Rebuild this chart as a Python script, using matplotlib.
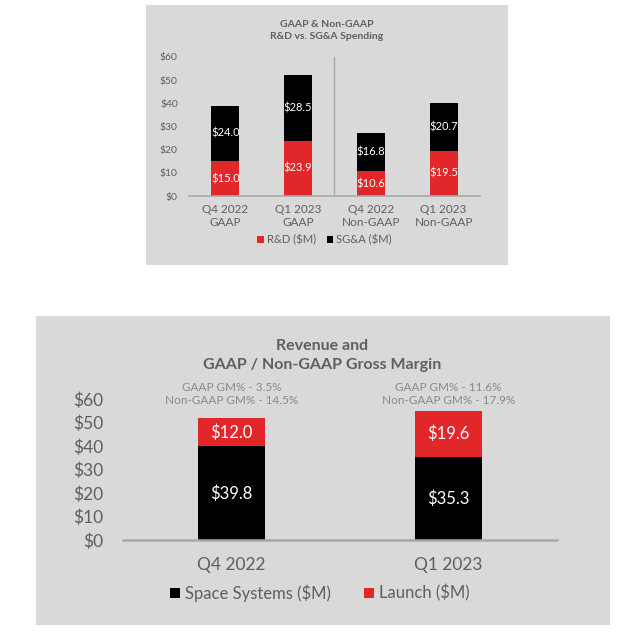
import matplotlib.pyplot as plt
from matplotlib.patches import Rectangle

# Top panel: spending
spend_labels = ["Q4 2022\nGAAP", "Q1 2023\nGAAP", "Q4 2022\nNon-GAAP", "Q1 2023\nNon-GAAP"]
rd_spend = [15.0, 23.9, 10.6, 19.5]
sga_spend = [24.0, 28.5, 16.8, 20.7]

# Bottom panel: revenue
rev_labels = ["Q4 2022", "Q1 2023"]
space_systems = [39.8, 35.3]
launch = [12.0, 19.6]
gaap_gm = [3.5, 11.6]
nongaap_gm = [14.5, 17.9]

y_ticks = [0, 10, 20, 30, 40, 50, 60]

RED = "#e1272a"
BLACK = "#000000"
PANEL = "#d9d9d9"
TEXT = "#5f5f5f"
LIGHT = "#8a8a8a"

plt.rcParams["font.family"] = ["Lato", "DejaVu Sans"]

fig = plt.figure(figsize=(6.4, 6.36), dpi=100)

# gray panel backgrounds (behind the axes)
fig.patches.append(Rectangle((0.228, 0.5833), 0.5656, 0.4088, transform=fig.transFigure,
                             facecolor=PANEL, edgecolor="none", zorder=-10))
fig.patches.append(Rectangle((0.05625, 0.0173), 0.897, 0.4858, transform=fig.transFigure,
                             facecolor=PANEL, edgecolor="none", zorder=-10))


def style_axes(ax, size):
    ax.set_facecolor("none")
    for s in ["top", "right", "left"]:
        ax.spines[s].set_visible(False)
    ax.spines["bottom"].set_color("#a8a8a8")
    ax.tick_params(length=0, labelcolor=TEXT, labelsize=size)
    ax.set_ylim(0, 60)
    ax.set_yticks(y_ticks)
    ax.set_yticklabels([f"${v}" for v in y_ticks])


# ---- top chart ----
ax1 = fig.add_axes([0.2953, 0.6918, 0.4547, 0.2186])
style_axes(ax1, 7.5)
ax1.spines["bottom"].set_linewidth(1.2)
x1 = list(range(len(spend_labels)))
b_rd = ax1.bar(x1, rd_spend, width=0.385, color=RED, label="R&D ($M)")
b_sga = ax1.bar(x1, sga_spend, width=0.385, bottom=rd_spend, color=BLACK, label="SG&A ($M)")
for i in x1:
    ax1.text(i, rd_spend[i] / 2, f"${rd_spend[i]:.1f}", ha="center", va="center",
             color="white", fontsize=8)
    ax1.text(i, rd_spend[i] + sga_spend[i] / 2, f"${sga_spend[i]:.1f}", ha="center",
             va="center", color="white", fontsize=8)
ax1.set_xlim(-0.5, 3.5)
ax1.set_xticks(x1)
ax1.set_xticklabels(spend_labels, linespacing=1.15)
ax1.tick_params(axis="x", pad=6, labelsize=8.5)
ax1.tick_params(axis="y", pad=8)
ax1.axvline(1.5, color="#a8a8a8", linewidth=1)
fig.text(0.511, 0.952, "GAAP & Non-GAAP\nR&D vs. SG&A Spending", ha="center", va="center",
         fontsize=7.5, fontweight="bold", color=TEXT, linespacing=1.45)
fig.legend(handles=[b_rd, b_sga], loc="center", bbox_to_anchor=(0.507, 0.6226), ncol=2,
           frameon=False, fontsize=8, labelcolor=TEXT, handlelength=0.6, handleheight=0.6,
           handletextpad=0.25, columnspacing=1.0)

# ---- bottom chart ----
ax2 = fig.add_axes([0.1922, 0.1509, 0.678, 0.2217])
style_axes(ax2, 12.5)
ax2.spines["bottom"].set_linewidth(1.8)
x2 = list(range(len(rev_labels)))
b_ss = ax2.bar(x2, space_systems, width=0.31, color=BLACK, label="Space Systems ($M)")
b_l = ax2.bar(x2, launch, width=0.31, bottom=space_systems, color=RED, label="Launch ($M)")
for i in x2:
    ax2.text(i, space_systems[i] / 2, f"${space_systems[i]:.1f}", ha="center", va="center",
             color="white", fontsize=12)
    ax2.text(i, space_systems[i] + launch[i] / 2, f"${launch[i]:.1f}", ha="center",
             va="center", color="white", fontsize=12)
    ax2.text(i, 62.2, f"GAAP GM% - {gaap_gm[i]}%\nNon-GAAP GM% - {nongaap_gm[i]}%",
             ha="center", va="center", color=LIGHT, fontsize=8.5, linespacing=1.15,
             clip_on=False)
ax2.set_xlim(-0.5, 1.5)
ax2.set_xticks(x2)
ax2.set_xticklabels(rev_labels)
ax2.tick_params(axis="x", pad=12)
ax2.tick_params(axis="y", pad=14)
fig.text(0.503, 0.441, "Revenue and\nGAAP / Non-GAAP Gross Margin", ha="center", va="center",
         fontsize=11.5, fontweight="bold", color=TEXT, linespacing=1.5)
fig.legend(handles=[b_ss, b_l], loc="center", bbox_to_anchor=(0.5, 0.0675), ncol=2,
           frameon=False, fontsize=12, labelcolor=TEXT, handlelength=0.6, handleheight=0.6,
           handletextpad=0.3, columnspacing=2.0)

fig.savefig("out.png", dpi=100)
